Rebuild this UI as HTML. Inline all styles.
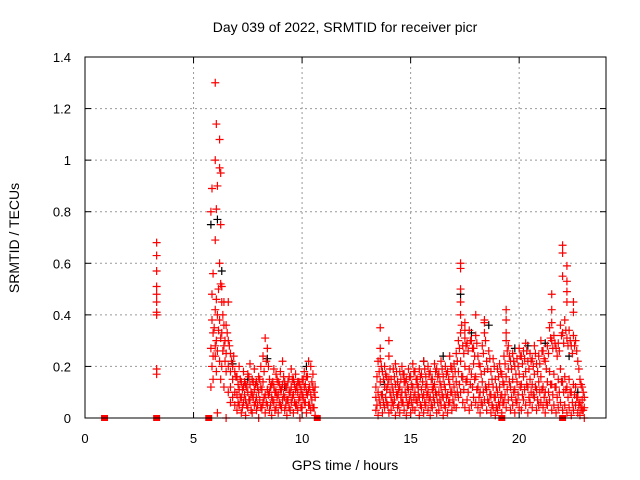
<!DOCTYPE html>
<html><head><meta charset="utf-8"><style>
body{margin:0;background:#fff;}
svg{display:block;font-family:"Liberation Sans",sans-serif;}
</style></head><body>
<svg id="chart" width="640" height="480">
<text x="345" y="32" font-size="14" text-anchor="middle">Day 039 of 2022, SRMTID for receiver picr</text>
<text x="345" y="470" font-size="14" text-anchor="middle">GPS time / hours</text>
<text transform="translate(19,238) rotate(-90)" font-size="14" text-anchor="middle">SRMTID / TECUs</text>
<g id="grid"></g>
<g id="ticks"></g>
<g id="marks"></g>
<rect x="85" y="57" width="521" height="361" fill="none" stroke="#000" stroke-width="1"/>
</svg>
<script>
const xTicks=[0,5,10,15,20];
const yTicks=[0,0.2,0.4,0.6,0.8,1,1.2,1.4];
const yTickLabels=["0","0.2","0.4","0.6","0.8","1","1.2","1.4"];
const zeroHours=[0.9,3.3,5.7,10.7,19.2,22.0];
const spikeHours=[3.3,3.3,3.3,3.3,3.3,3.3,3.3,3.3,3.3,3.3,
5.8,5.8,5.8,5.85,5.85,5.85,5.9,5.9,5.9,6.0,6.0,6.0,6.0,6.0,6.05,6.05,6.05,6.05,6.05,6.1,6.1,6.1,6.1,6.2,6.2,6.2,6.2,6.2,6.25,6.25,6.25,6.25,6.25,6.3,6.3,6.3,6.3,6.4,6.4,6.4,6.4,6.5,6.5,6.5,6.5,6.6,6.6,6.6,6.6,6.7,6.7,6.7,6.7,6.8,6.8,6.8,6.9,6.9,6.9,
13.6,13.6,14.0,17.3,17.3,17.3,17.3,17.3,17.5,17.5,18.0,18.4,18.4,19.4,19.4,19.4,21.5,21.5,21.5,22.0,22.0,22.0,22.2,22.2,22.2,22.2,22.5,22.5,
5.85,5.9,5.95,6.0,6.15,6.35,6.45,6.55,6.65,6.75,6.85,6.95,6.15,6.35,6.45];
const spikeValues=[0.68,0.63,0.57,0.51,0.48,0.45,0.41,0.40,0.19,0.17,
0.80,0.27,0.12,0.89,0.48,0.20,0.56,0.33,0.15,1.30,1.00,0.69,0.42,0.24,1.14,0.81,0.46,0.30,0.18,0.90,0.40,0.26,0.02,1.08,0.97,0.60,0.38,0.22,0.95,0.75,0.52,0.31,0.15,0.51,0.45,0.33,0.20,0.45,0.36,0.28,0.12,0.36,0.25,0.18,0.00,0.45,0.30,0.20,0.10,0.25,0.18,0.12,0.06,0.20,0.15,0.08,0.18,0.10,0.05,
0.35,0.27,0.30,0.60,0.58,0.50,0.45,0.40,0.37,0.34,0.40,0.38,0.37,0.42,0.38,0.33,0.48,0.42,0.37,0.67,0.64,0.55,0.59,0.53,0.49,0.45,0.45,0.41,
0.38,0.24,0.35,0.28,0.34,0.40,0.30,0.33,0.28,0.22,0.24,0.16,0.50,0.26,0.22];
const bHours=[7.0,7.1,7.2,7.3,7.4,7.5,7.6,7.7,7.8,7.9,8.0,8.1,8.2,8.3,8.4,8.5,8.6,8.7,8.8,8.9,9.0,9.1,9.2,9.3,9.4,9.5,9.6,9.7,9.8,9.9,10.0,10.1,10.2,10.3,10.4,10.5,10.6];
const bLow=[0.03,0.05,0.02,0.06,0.01,0.04,0.07,0.02,0.05,0.03,0.00,0.04,0.06,0.02,0.05,0.03,0.01,0.06,0.04,0.02,0.05,0.07,0.03,0.01,0.04,0.06,0.02,0.05,0.03,0.00,0.04,0.06,0.02,0.05,0.03,0.04,0.01];
const bMid=[0.09,0.11,0.08,0.12,0.07,0.10,0.13,0.09,0.11,0.08,0.10,0.12,0.14,0.09,0.11,0.10,0.08,0.12,0.10,0.09,0.11,0.13,0.08,0.07,0.10,0.12,0.09,0.11,0.10,0.08,0.09,0.12,0.10,0.11,0.09,0.12,0.08];
const bHigh=[0.16,0.20,0.14,0.18,0.13,0.17,0.21,0.15,0.19,0.14,0.16,0.20,0.24,0.31,0.27,0.15,0.13,0.19,0.17,0.14,0.18,0.22,0.14,0.12,0.16,0.19,0.15,0.17,0.14,0.13,0.15,0.18,0.16,0.22,0.20,0.17,0.12];
const bHours2=[7.05,7.15,7.25,7.35,7.45,7.55,7.65,7.75,7.85,7.95,8.05,8.15,8.25,8.35,8.45,8.55,8.65,8.75,8.85,8.95,9.05,9.15,9.25,9.35,9.45,9.55,9.65,9.75,9.85,9.95,10.05,10.15,10.25,10.35,10.45,10.55];
const bExtraA=[0.06,0.08,0.04,0.09,0.05,0.07,0.03,0.08,0.06,0.05,0.07,0.04,0.08,0.06,0.09,0.05,0.07,0.03,0.08,0.06,0.04,0.09,0.05,0.07,0.03,0.08,0.06,0.05,0.07,0.04,0.08,0.06,0.09,0.05,0.07,0.04];
const bExtraB=[0.13,0.15,0.11,0.14,0.12,0.16,0.10,0.14,0.13,0.12,0.15,0.11,0.18,0.22,0.20,0.12,0.14,0.10,0.15,0.13,0.11,0.16,0.12,0.14,0.10,0.15,0.13,0.12,0.14,0.11,0.15,0.13,0.16,0.12,0.14,0.10];
const cHours=[13.4,13.5,13.6,13.7,13.8,13.9,14.0,14.1,14.2,14.3,14.4,14.5,14.6,14.7,14.8,14.9,15.0,15.1,15.2,15.3,15.4,15.5,15.6,15.7,15.8,15.9,16.0,16.1,16.2,16.3,16.4,16.5,16.6,16.7,16.8,16.9,17.0,17.1,17.2,17.3,17.4,17.5,17.6,17.7,17.8,17.9,18.0,18.1,18.2,18.3,18.4,18.5,18.6,18.7,18.8,18.9,19.0,19.1,19.2,19.3,19.4,19.5,19.6,19.7,19.8,19.9,20.0,20.1,20.2,20.3,20.4,20.5,20.6,20.7,20.8,20.9,21.0,21.1,21.2,21.3,21.4,21.5,21.6,21.7,21.8,21.9,22.0,22.1,22.2,22.3,22.4,22.5,22.6,22.7,22.8,22.9,23.0];
const cLow=[0.03,0.01,0.05,0.02,0.04,0.06,0.02,0.03,0.05,0.01,0.04,0.02,0.06,0.03,0.01,0.05,0.02,0.04,0.03,0.06,0.01,0.04,0.02,0.05,0.03,0.01,0.04,0.06,0.02,0.03,0.05,0.01,0.04,0.02,0.06,0.03,0.05,0.04,0.08,0.10,0.06,0.04,0.07,0.03,0.05,0.08,0.06,0.04,0.02,0.05,0.07,0.03,0.06,0.02,0.04,0.01,0.03,0.05,0.02,0.06,0.04,0.07,0.03,0.05,0.02,0.06,0.04,0.03,0.07,0.05,0.02,0.06,0.04,0.08,0.03,0.05,0.06,0.04,0.02,0.05,0.07,0.03,0.05,0.02,0.04,0.06,0.03,0.05,0.02,0.04,0.01,0.03,0.05,0.02,0.01,0.03,0.00];
const cMid=[0.08,0.10,0.14,0.09,0.12,0.11,0.15,0.08,0.10,0.13,0.09,0.12,0.10,0.14,0.08,0.11,0.09,0.12,0.10,0.13,0.08,0.11,0.09,0.12,0.10,0.08,0.11,0.13,0.09,0.10,0.12,0.08,0.11,0.09,0.13,0.10,0.12,0.14,0.18,0.22,0.16,0.20,0.15,0.19,0.17,0.21,0.16,0.12,0.10,0.14,0.18,0.11,0.13,0.09,0.12,0.08,0.10,0.12,0.09,0.13,0.16,0.19,0.12,0.15,0.11,0.14,0.17,0.13,0.16,0.18,0.12,0.15,0.13,0.17,0.11,0.14,0.16,0.12,0.10,0.14,0.18,0.13,0.17,0.12,0.15,0.19,0.14,0.16,0.12,0.15,0.10,0.13,0.12,0.08,0.06,0.07,0.04];
const cHigh=[0.12,0.22,0.23,0.18,0.20,0.16,0.24,0.15,0.19,0.21,0.14,0.18,0.20,0.17,0.15,0.19,0.16,0.21,0.18,0.15,0.19,0.17,0.22,0.16,0.20,0.18,0.15,0.21,0.19,0.17,0.22,0.16,0.20,0.18,0.24,0.19,0.21,0.25,0.30,0.33,0.28,0.31,0.29,0.34,0.30,0.27,0.32,0.24,0.20,0.28,0.33,0.22,0.26,0.18,0.23,0.15,0.19,0.21,0.17,0.24,0.30,0.28,0.22,0.25,0.20,0.23,0.27,0.24,0.26,0.29,0.22,0.25,0.23,0.28,0.21,0.24,0.30,0.26,0.22,0.28,0.35,0.30,0.32,0.27,0.29,0.36,0.33,0.38,0.31,0.34,0.28,0.32,0.30,0.22,0.15,0.12,0.08];
const cHours2=[13.45,13.55,13.65,13.75,13.85,13.95,14.05,14.15,14.25,14.35,14.45,14.55,14.65,14.75,14.85,14.95,15.05,15.15,15.25,15.35,15.45,15.55,15.65,15.75,15.85,15.95,16.05,16.15,16.25,16.35,16.45,16.55,16.65,16.75,16.85,16.95,17.05,17.15,17.25,17.35,17.45,17.55,17.65,17.75,17.85,17.95,18.05,18.15,18.25,18.35,18.45,18.55,18.65,18.75,18.85,18.95,19.05,19.15,19.25,19.35,19.45,19.55,19.65,19.75,19.85,19.95,20.05,20.15,20.25,20.35,20.45,20.55,20.65,20.75,20.85,20.95,21.05,21.15,21.25,21.35,21.45,21.55,21.65,21.75,21.85,21.95,22.05,22.15,22.25,22.35,22.45,22.55,22.65,22.75,22.85,22.95];
const cExtraA=[0.05,0.07,0.09,0.06,0.08,0.05,0.10,0.06,0.07,0.09,0.05,0.08,0.06,0.10,0.05,0.07,0.06,0.08,0.07,0.09,0.05,0.08,0.06,0.09,0.07,0.05,0.08,0.10,0.06,0.07,0.09,0.05,0.08,0.06,0.10,0.07,0.09,0.10,0.13,0.16,0.11,0.14,0.10,0.13,0.12,0.15,0.11,0.08,0.06,0.10,0.12,0.07,0.09,0.05,0.08,0.04,0.06,0.08,0.06,0.09,0.11,0.14,0.08,0.10,0.07,0.09,0.12,0.09,0.11,0.13,0.08,0.10,0.09,0.12,0.07,0.10,0.11,0.08,0.06,0.10,0.13,0.09,0.12,0.08,0.10,0.14,0.10,0.11,0.08,0.10,0.06,0.09,0.08,0.05,0.04,0.03];
const cExtraB=[0.16,0.18,0.20,0.15,0.17,0.13,0.19,0.12,0.16,0.18,0.11,0.15,0.17,0.14,0.12,0.16,0.13,0.18,0.15,0.12,0.16,0.14,0.19,0.13,0.17,0.15,0.12,0.18,0.16,0.14,0.19,0.13,0.17,0.15,0.20,0.16,0.18,0.22,0.27,0.36,0.25,0.28,0.26,0.30,0.27,0.24,0.29,0.21,0.17,0.25,0.30,0.19,0.23,0.15,0.20,0.12,0.16,0.18,0.14,0.21,0.26,0.24,0.19,0.22,0.17,0.20,0.24,0.21,0.23,0.26,0.19,0.22,0.20,0.25,0.18,0.21,0.26,0.23,0.19,0.25,0.31,0.27,0.29,0.24,0.26,0.32,0.29,0.34,0.28,0.30,0.25,0.28,0.26,0.19,0.13,0.10];
const blackHours=[5.8,6.1,6.3,6.8,7.5,8.4,9.2,10.2,13.8,15.6,16.5,17.3,17.8,18.6,19.8,20.4,21.2,22.3,22.7];
const blackValues=[0.75,0.77,0.57,0.21,0.15,0.23,0.12,0.20,0.13,0.22,0.24,0.48,0.33,0.36,0.27,0.28,0.29,0.24,0.10];

const X0=85,X1=606,Y0=418,Y1=57,XMAX=24,YMAX=1.4;
const xs=v=>X0+(X1-X0)*v/XMAX;
const ys=v=>Y0-(Y0-Y1)*v/YMAX;
const NS="http://www.w3.org/2000/svg";
const grid=document.getElementById('grid'),ticks=document.getElementById('ticks'),marks=document.getElementById('marks');
function mk(tag,attrs,parent){const e=document.createElementNS(NS,tag);for(const k in attrs)e.setAttribute(k,attrs[k]);parent.appendChild(e);return e;}
xTicks.forEach(t=>{
  const x=xs(t);
  if(t>0){const g=mk('line',{x1:x,x2:x,y1:Y1,y2:Y0,stroke:'#999','stroke-dasharray':'2,3'},grid);
  
  }
  mk('line',{x1:x,x2:x,y1:Y0,y2:Y0-6,stroke:'#000'},ticks);
  mk('line',{x1:x,x2:x,y1:Y1,y2:Y1+6,stroke:'#000'},ticks);
  const l=mk('text',{x:x,y:Y0+25,'font-size':13,'text-anchor':'middle'},ticks);l.textContent=t;
  
  
});
yTicks.forEach((t,i)=>{
  const y=ys(t);
  if(t>0&&t<YMAX){const g=mk('line',{x1:X0,x2:X1,y1:y,y2:y,stroke:'#999','stroke-dasharray':'2,3'},grid);
  
  }
  mk('line',{x1:X0,x2:X0+6,y1:y,y2:y,stroke:'#000'},ticks);
  mk('line',{x1:X1,x2:X1-6,y1:y,y2:y,stroke:'#000'},ticks);
  const l=mk('text',{x:X0-14,y:y+5,'font-size':13,'text-anchor':'end'},ticks);l.textContent=yTickLabels[i];
  
  
});
function plus(h,v,color){
  const x=xs(h),y=ys(v);
  const p=mk('path',{d:`M${x-4},${y}H${x+4}M${x},${y-4}V${y+4}`,stroke:color,'stroke-width':1.2,fill:'none'},marks);
  
  
}
blackHours.forEach((h,i)=>plus(h,blackValues[i],'#000'));
spikeHours.forEach((h,i)=>plus(h,spikeValues[i],'#f00'));
[[bHours,bLow],[bHours,bMid],[bHours,bHigh],[bHours2,bExtraA],[bHours2,bExtraB],[cHours,cLow],[cHours,cMid],[cHours,cHigh],[cHours2,cExtraA],[cHours2,cExtraB]].forEach(([hs,vs])=>{
  const n=Math.min(hs.length,vs.length);
  for(let i=0;i<n;i++)plus(hs[i],vs[i],'#f00');
});
zeroHours.forEach(h=>{
  const r=mk('rect',{x:xs(h)-3.5,y:Y0-3,width:7,height:6,fill:'#f00'},marks);
  
  
});
</script>
</body></html>
